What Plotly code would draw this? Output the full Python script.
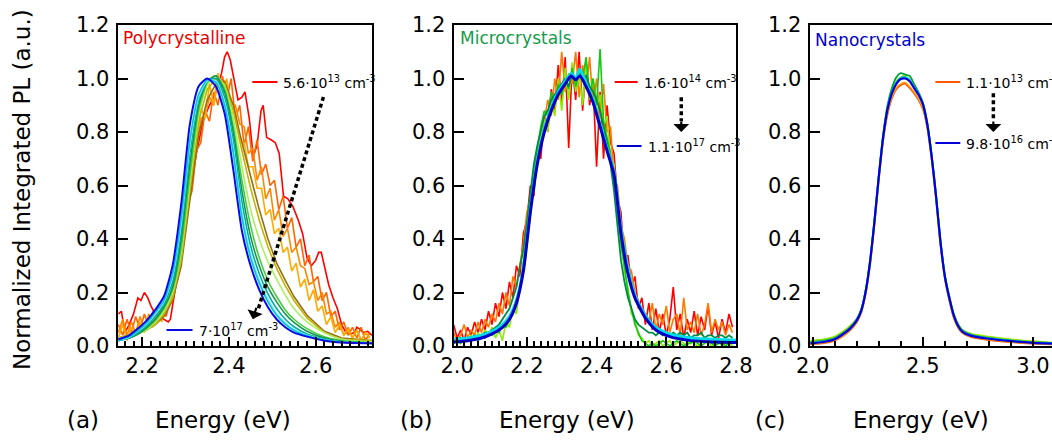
import numpy as np
import plotly.graph_objects as go

W, H = 1052, 442
FONT = "DejaVu Sans, Verdana, sans-serif"

# ---------------- panel (a) : Polycrystalline ----------------
a_E = [2.145, 2.17, 2.19, 2.21, 2.23,
       2.25, 2.27, 2.29, 2.31, 2.33,
       2.35, 2.37, 2.39, 2.41, 2.43,
       2.45, 2.47, 2.49, 2.51, 2.53,
       2.55, 2.58, 2.62, 2.66, 2.73]
a_blue = [0.025, 0.04, 0.065, 0.095, 0.135, 0.185, 0.30, 0.53, 0.83, 0.97,
          1.00, 0.97, 0.87, 0.66, 0.43, 0.30, 0.21, 0.145, 0.10, 0.07,
          0.05, 0.035, 0.02, 0.013, 0.01]
a_cyan = [0.02, 0.035, 0.057, 0.085, 0.125, 0.17, 0.27, 0.48, 0.77, 0.94,
          0.995, 0.985, 0.90, 0.72, 0.48, 0.33, 0.235, 0.165, 0.115, 0.082,
          0.058, 0.038, 0.022, 0.014, 0.01]
a_lightcyan = [0.02, 0.033, 0.055, 0.082, 0.12, 0.165, 0.26, 0.46, 0.75, 0.93,
               0.99, 0.99, 0.91, 0.74, 0.50, 0.345, 0.245, 0.175, 0.122, 0.087,
               0.062, 0.04, 0.023, 0.015, 0.01]
a_teal = [0.02, 0.03, 0.05, 0.075, 0.11, 0.155, 0.24, 0.43, 0.72, 0.92,
          0.99, 1.00, 0.93, 0.77, 0.54, 0.375, 0.27, 0.195, 0.14, 0.10,
          0.072, 0.045, 0.026, 0.016, 0.01]
a_darkgreen = [0.02, 0.03, 0.045, 0.07, 0.10, 0.145, 0.22, 0.40, 0.68, 0.90,
               0.99, 1.01, 0.95, 0.80, 0.58, 0.41, 0.30, 0.22, 0.165, 0.12,
               0.088, 0.055, 0.03, 0.018, 0.01]
a_green = [0.025, 0.03, 0.045, 0.065, 0.095, 0.14, 0.21, 0.37, 0.64, 0.88,
           0.985, 1.01, 0.96, 0.82, 0.62, 0.45, 0.33, 0.245, 0.185, 0.135,
           0.10, 0.065, 0.035, 0.02, 0.012]
a_lightgreen = [0.03, 0.035, 0.045, 0.06, 0.09, 0.13, 0.20, 0.35, 0.61, 0.86,
                0.975, 1.01, 0.97, 0.85, 0.67, 0.51, 0.40, 0.315, 0.25, 0.19,
                0.14, 0.09, 0.05, 0.025, 0.015]
a_olive = [0.03, 0.04, 0.05, 0.06, 0.08, 0.12, 0.18, 0.32, 0.57, 0.84,
           0.96, 1.00, 0.98, 0.88, 0.73, 0.59, 0.47, 0.37, 0.29, 0.225,
           0.17, 0.105, 0.05, 0.025, 0.02]
a_brown = [0.03, 0.04, 0.05, 0.06, 0.08, 0.11, 0.17, 0.30, 0.54, 0.79,
           0.92, 0.98, 0.99, 0.90, 0.76, 0.63, 0.51, 0.40, 0.31, 0.245,
           0.185, 0.115, 0.055, 0.03, 0.02]

# noisy orange spectra, energies 2.145, 2.155, ... (0.01 eV step)
a_noisy_E0, a_noisy_dE = 2.145, 0.01
a_orange1 = [0.08, 0.04, 0.10, 0.05, 0.11, 0.06, 0.12, 0.07, 0.13, 0.09,
             0.15, 0.11, 0.17, 0.20, 0.32, 0.38, 0.53, 0.58, 0.73, 0.76,
             0.88, 0.84, 0.95, 0.90, 1.01, 0.92, 1.00, 0.85, 0.90, 0.75,
             0.82, 0.69, 0.77, 0.64, 0.68, 0.60, 0.62, 0.51, 0.56, 0.44,
             0.48, 0.37, 0.40, 0.30, 0.34, 0.24, 0.26, 0.17, 0.20, 0.11,
             0.13, 0.06, 0.09, 0.04, 0.07, 0.03, 0.07, 0.02, 0.05]
a_orange2 = [0.05, 0.10, 0.04, 0.09, 0.05, 0.11, 0.06, 0.12, 0.08, 0.14,
             0.10, 0.17, 0.17, 0.27, 0.33, 0.47, 0.55, 0.69, 0.74, 0.85,
             0.86, 0.93, 0.90, 0.99, 0.97, 0.96, 0.91, 0.90, 0.83, 0.82,
             0.72, 0.74, 0.62, 0.67, 0.55, 0.59, 0.47, 0.51, 0.41, 0.44,
             0.35, 0.37, 0.30, 0.29, 0.23, 0.24, 0.17, 0.20, 0.12, 0.13,
             0.07, 0.09, 0.04, 0.07, 0.03, 0.06, 0.02, 0.05, 0.03]
a_orange3 = [0.03, 0.08, 0.02, 0.07, 0.04, 0.09, 0.05, 0.11, 0.07, 0.13,
             0.09, 0.16, 0.16, 0.29, 0.31, 0.51, 0.53, 0.73, 0.73, 0.89,
             0.85, 0.98, 0.90, 1.02, 0.94, 1.00, 0.87, 0.88, 0.77, 0.76,
             0.67, 0.67, 0.59, 0.59, 0.49, 0.51, 0.42, 0.44, 0.35, 0.37,
             0.28, 0.31, 0.22, 0.25, 0.17, 0.21, 0.13, 0.15, 0.08, 0.11,
             0.05, 0.08, 0.04, 0.06, 0.03, 0.06, 0.02, 0.05, 0.03]

a_red_E = [2.145, 2.152, 2.16, 2.17, 2.18, 2.19, 2.197, 2.205, 2.213, 2.22,
           2.23, 2.24, 2.25, 2.26, 2.265, 2.275, 2.285, 2.295, 2.31, 2.325,
           2.34, 2.355, 2.365, 2.375, 2.383, 2.39, 2.396, 2.403, 2.412, 2.421,
           2.43, 2.437, 2.447, 2.456, 2.465, 2.474, 2.479, 2.483, 2.487, 2.498,
           2.507, 2.516, 2.522, 2.526, 2.536, 2.548, 2.56, 2.57, 2.58, 2.59,
           2.60, 2.607, 2.613, 2.62, 2.63, 2.64, 2.65, 2.66, 2.67, 2.68,
           2.69, 2.695, 2.70, 2.71, 2.72, 2.73]
a_red = [0.12, 0.13, 0.05, 0.08, 0.12, 0.18, 0.17, 0.20, 0.18, 0.15,
         0.12, 0.11, 0.10, 0.09, 0.10, 0.20, 0.30, 0.42, 0.58, 0.72,
         0.84, 0.90, 0.93, 0.98, 1.02, 1.08, 1.10, 1.07, 0.99, 0.92,
         0.93, 0.95, 0.85, 0.71, 0.75, 0.88, 0.90, 0.84, 0.78, 0.77,
         0.76, 0.72, 0.62, 0.56, 0.55, 0.52, 0.47, 0.42, 0.33, 0.30,
         0.32, 0.35, 0.35, 0.30, 0.23, 0.18, 0.14, 0.08, 0.05, 0.045,
         0.05, 0.07, 0.065, 0.05, 0.055, 0.04]

# ---------------- panel (b) : Microcrystals ----------------
b_E = [1.99, 2.03, 2.07, 2.10, 2.13, 2.15, 2.17, 2.19, 2.21, 2.23,
       2.25, 2.27, 2.29, 2.31, 2.327, 2.34, 2.352, 2.37, 2.39, 2.41,
       2.43, 2.45, 2.47, 2.49, 2.51, 2.54, 2.57, 2.61, 2.66, 2.72, 2.80]
b_blue = [0.015, 0.02, 0.03, 0.045, 0.07, 0.10, 0.16, 0.28, 0.50, 0.68,
          0.80, 0.88, 0.94, 0.98, 1.01, 0.995, 1.01, 0.97, 0.91, 0.82,
          0.73, 0.64, 0.42, 0.27, 0.18, 0.105, 0.06, 0.035, 0.022, 0.016, 0.013]
b_cyan = [0.025, 0.03, 0.04, 0.055, 0.08, 0.11, 0.17, 0.29, 0.51, 0.69,
          0.81, 0.89, 0.95, 0.99, 1.02, 1.00, 1.035, 0.98, 0.92, 0.83,
          0.74, 0.65, 0.44, 0.29, 0.19, 0.115, 0.07, 0.045, 0.032, 0.026, 0.022]

# noisy spectra, energies 1.99, 2.00, ... (0.01 eV step)
b_noisy_E0, b_noisy_dE = 1.99, 0.01
b_red = [0.08, 0.03, 0.06, 0.02, 0.07, 0.04, 0.09, 0.05, 0.10, 0.06,
         0.13, 0.08, 0.16, 0.11, 0.20, 0.14, 0.24, 0.18, 0.30, 0.26,
         0.42, 0.47, 0.60, 0.56, 0.74, 0.70, 0.86, 0.80, 0.96, 0.88,
         1.05, 0.90, 1.08, 0.74, 1.05, 0.92, 1.10, 0.88, 1.06, 0.90,
         0.98, 0.67, 0.95, 0.70, 0.90, 0.76, 0.72, 0.55, 0.50, 0.30,
         0.34, 0.22, 0.26, 0.14, 0.18, 0.08, 0.16, 0.06, 0.14, 0.05,
         0.12, 0.04, 0.10, 0.22, 0.06, 0.12, 0.03, 0.10, 0.05, 0.13,
         0.04, 0.11, 0.06, 0.15, 0.04, 0.09, 0.03, 0.10, 0.05, 0.12,
         0.07]
b_orange = [0.05, 0.02, 0.04, 0.08, 0.03, 0.06, 0.04, 0.09, 0.05, 0.10,
            0.07, 0.12, 0.09, 0.16, 0.12, 0.20, 0.15, 0.26, 0.22, 0.30,
            0.38, 0.50, 0.55, 0.66, 0.72, 0.80, 0.84, 0.92, 0.86, 1.00,
            0.92, 1.10, 0.95, 1.02, 0.98, 1.10, 0.93, 1.05, 0.96, 1.08,
            0.90, 1.00, 0.85, 0.98, 0.80, 0.82, 0.62, 0.60, 0.45, 0.40,
            0.30, 0.28, 0.20, 0.17, 0.13, 0.12, 0.09, 0.16, 0.06, 0.12,
            0.08, 0.15, 0.05, 0.10, 0.12, 0.04, 0.18, 0.06, 0.09, 0.05,
            0.12, 0.04, 0.08, 0.16, 0.05, 0.10, 0.06, 0.09, 0.04, 0.08,
            0.05]
b_chartreuse = [0.02, 0.03, 0.01, 0.03, 0.02, 0.04, 0.02, 0.05, 0.03, 0.06,
                0.04, 0.07, 0.03, 0.06, 0.02, 0.09, 0.07, 0.14, 0.12, 0.22,
                0.30, 0.42, 0.55, 0.60, 0.72, 0.78, 0.85, 0.80, 0.92, 0.86,
                1.00, 0.88, 1.04, 0.92, 1.06, 0.95, 1.02, 0.90, 1.05, 0.92,
                1.00, 0.86, 0.94, 0.82, 0.86, 0.70, 0.68, 0.50, 0.40, 0.28,
                0.22, 0.12, 0.10, 0.04, 0.03, 0.01, 0.02, 0.00, 0.01, 0.02,
                0.00, 0.01, 0.02, 0.00, 0.01, 0.02, 0.01, 0.00, 0.02, 0.01,
                0.00, 0.01, 0.02, 0.01, 0.00, 0.01, 0.02, 0.00, 0.01, 0.01,
                0.00]
b_green = [0.01, 0.02, 0.01, 0.03, 0.02, 0.02, 0.03, 0.02, 0.04, 0.03,
           0.05, 0.04, 0.06, 0.05, 0.08, 0.07, 0.10, 0.12, 0.16, 0.22,
           0.30, 0.45, 0.52, 0.66, 0.74, 0.82, 0.88, 0.86, 0.95, 0.90,
           0.98, 0.94, 1.00, 0.96, 1.04, 0.97, 1.02, 1.00, 1.08, 0.94,
           1.00, 0.90, 1.11, 0.84, 0.78, 0.72, 0.60, 0.52, 0.38, 0.30,
           0.20, 0.14, 0.08, 0.05, 0.02, 0.01, 0.00, 0.01, 0.00, 0.01,
           0.02, 0.01, 0.00, 0.01, 0.02, 0.01, 0.00, 0.01, 0.01, 0.02,
           0.01, 0.00, 0.01, 0.02, 0.01, 0.00, 0.01, 0.01, 0.00, 0.01,
           0.01]
b_darkgreen = [0.02, 0.02, 0.03, 0.02, 0.03, 0.03, 0.04, 0.03, 0.04, 0.05,
               0.05, 0.06, 0.07, 0.08, 0.10, 0.12, 0.14, 0.18, 0.22, 0.30,
               0.36, 0.46, 0.58, 0.68, 0.75, 0.80, 0.86, 0.88, 0.92, 0.94,
               0.96, 0.98, 1.00, 0.97, 1.02, 0.99, 1.03, 1.00, 1.01, 0.97,
               0.95, 0.92, 0.88, 0.82, 0.76, 0.68, 0.58, 0.45, 0.32, 0.24,
               0.18, 0.14, 0.10, 0.08, 0.07, 0.06, 0.05, 0.05, 0.04, 0.05,
               0.04, 0.05, 0.04, 0.05, 0.04, 0.05, 0.04, 0.05, 0.03, 0.04,
               0.04, 0.05, 0.03, 0.04, 0.04, 0.03, 0.04, 0.04, 0.03, 0.04,
               0.03]

# ---------------- panel (c) : Nanocrystals ----------------
c_E = [1.99, 2.05, 2.10, 2.14, 2.17, 2.20, 2.22, 2.24, 2.26, 2.28,
       2.30, 2.32, 2.34, 2.36, 2.38, 2.40, 2.42, 2.44, 2.46, 2.48,
       2.50, 2.52, 2.54, 2.56, 2.58, 2.60, 2.62, 2.64, 2.66, 2.68,
       2.72, 2.80, 2.90, 3.00, 3.10]
c_blue = [0.01, 0.015, 0.025, 0.045, 0.065, 0.095, 0.13, 0.20, 0.31, 0.46,
          0.63, 0.78, 0.885, 0.945, 0.98, 0.998, 1.0, 0.99, 0.965, 0.94,
          0.905, 0.83, 0.71, 0.56, 0.39, 0.26, 0.18, 0.115, 0.075, 0.053,
          0.038, 0.027, 0.018, 0.012, 0.008]
c_cyan = [0.012, 0.017, 0.027, 0.047, 0.067, 0.097, 0.132, 0.202, 0.312, 0.462,
          0.632, 0.782, 0.887, 0.948, 0.985, 1.003, 1.005, 0.995, 0.97, 0.945,
          0.908, 0.832, 0.712, 0.562, 0.392, 0.262, 0.182, 0.117, 0.077, 0.055,
          0.04, 0.029, 0.02, 0.013, 0.009]
c_green = [0.015, 0.02, 0.03, 0.05, 0.07, 0.10, 0.135, 0.205, 0.315, 0.465,
           0.635, 0.79, 0.90, 0.965, 1.005, 1.02, 1.015, 1.01, 0.98, 0.95,
           0.91, 0.835, 0.715, 0.565, 0.395, 0.265, 0.185, 0.12, 0.08, 0.058,
           0.042, 0.03, 0.02, 0.014, 0.01]
c_chartreuse = [0.02, 0.025, 0.035, 0.055, 0.075, 0.10, 0.135, 0.205, 0.31, 0.46,
                0.63, 0.785, 0.89, 0.955, 0.99, 1.005, 1.01, 0.995, 0.97, 0.945,
                0.905, 0.83, 0.71, 0.56, 0.39, 0.265, 0.185, 0.12, 0.082, 0.06,
                0.045, 0.035, 0.025, 0.018, 0.012]
c_orange = [0.008, 0.012, 0.022, 0.04, 0.06, 0.09, 0.125, 0.195, 0.30, 0.45,
            0.62, 0.77, 0.87, 0.93, 0.965, 0.98, 0.985, 0.97, 0.95, 0.925,
            0.89, 0.82, 0.70, 0.55, 0.38, 0.255, 0.175, 0.11, 0.07, 0.05,
            0.035, 0.024, 0.015, 0.01, 0.006]
c_red = [0.006, 0.01, 0.02, 0.038, 0.058, 0.088, 0.122, 0.19, 0.295, 0.445,
         0.615, 0.765, 0.865, 0.925, 0.96, 0.975, 0.98, 0.965, 0.945, 0.92,
         0.885, 0.815, 0.695, 0.545, 0.375, 0.25, 0.17, 0.105, 0.068, 0.048,
         0.033, 0.022, 0.014, 0.009, 0.005]

# arrows (data coordinates)
arrow_a_E = [2.618, 2.468]
arrow_a_I = [0.931, 0.14]
arrow_b_E = [2.643, 2.643]
arrow_b_I = [0.93, 0.84]
arrow_c_E = [2.82, 2.82]
arrow_c_I = [0.945, 0.84]

# legend labels
labels = {
    "a_hi": "5.6·10<sup>13</sup> cm<sup>-3</sup>",
    "a_lo": "7·10<sup>17</sup> cm<sup>-3</sup>",
    "b_hi": "1.6·10<sup>14</sup> cm<sup>-3</sup>",
    "b_lo": "1.1·10<sup>17</sup> cm<sup>-3</sup>",
    "c_hi": "1.1·10<sup>13</sup> cm<sup>-3</sup>",
    "c_lo": "9.8·10<sup>16</sup> cm<sup>-3</sup>",
}

fig = go.Figure()


def add(ax, x, y, color, width=1.6, shape="linear"):
    fig.add_trace(go.Scatter(
        x=x, y=y, mode="lines", xaxis="x" + ax, yaxis="y" + ax,
        line=dict(color=color, width=width, shape=shape, smoothing=0.6 if shape == "spline" else None),
        hoverinfo="skip", showlegend=False))


def grid(e0, de, n):
    return list(np.round(e0 + de * np.arange(n), 4))


# panel a
add("", a_red_E, a_red, "rgb(255,0,0)", 1.6)
add("", grid(a_noisy_E0, a_noisy_dE, len(a_orange1)), a_orange1, "rgb(255,100,0)", 1.6)
add("", grid(a_noisy_E0, a_noisy_dE, len(a_orange2)), a_orange2, "rgb(255,135,0)", 1.6)
add("", grid(a_noisy_E0, a_noisy_dE, len(a_orange3)), a_orange3, "rgb(255,170,0)", 1.6)
add("", a_E, a_brown, "rgb(150,110,20)", 1.6)
add("", a_E, a_olive, "rgb(195,180,0)", 1.6)
add("", a_E, a_lightgreen, "rgb(170,240,100)", 1.6, "spline")
add("", a_E, a_green, "rgb(70,205,60)", 1.6, "spline")
add("", a_E, a_darkgreen, "rgb(20,150,80)", 1.6, "spline")
add("", a_E, a_teal, "rgb(0,175,160)", 1.6, "spline")
add("", a_E, a_lightcyan, "rgb(130,230,240)", 1.6, "spline")
add("", a_E, a_cyan, "rgb(0,195,225)", 1.6, "spline")
add("", a_E, a_blue, "rgb(10,10,230)", 2.0, "spline")

# panel b
add("2", grid(b_noisy_E0, b_noisy_dE, len(b_red)), b_red, "rgb(255,0,0)", 1.6)
add("2", grid(b_noisy_E0, b_noisy_dE, len(b_orange)), b_orange, "rgb(255,120,0)", 1.6)
add("2", grid(b_noisy_E0, b_noisy_dE, len(b_chartreuse)), b_chartreuse, "rgb(140,235,0)", 1.6)
add("2", grid(b_noisy_E0, b_noisy_dE, len(b_green)), b_green, "rgb(20,200,20)", 1.6)
add("2", grid(b_noisy_E0, b_noisy_dE, len(b_darkgreen)), b_darkgreen, "rgb(0,140,70)", 1.8)
add("2", b_E, b_cyan, "rgb(0,220,235)", 3.0, "spline")
add("2", b_E, b_blue, "rgb(0,0,200)", 3.0, "spline")

# panel c
add("3", c_E, c_red, "rgb(255,70,0)", 1.6, "spline")
add("3", c_E, c_orange, "rgb(255,160,0)", 1.6, "spline")
add("3", c_E, c_chartreuse, "rgb(150,230,0)", 1.8, "spline")
add("3", c_E, c_green, "rgb(0,160,60)", 1.8, "spline")
add("3", c_E, c_cyan, "rgb(0,200,230)", 1.8, "spline")
add("3", c_E, c_blue, "rgb(0,0,220)", 2.2, "spline")

# dotted arrows
for ax, xs, ys in (("", arrow_a_E, arrow_a_I), ("2", arrow_b_E, arrow_b_I), ("3", arrow_c_E, arrow_c_I)):
    fig.add_trace(go.Scatter(x=xs, y=ys, mode="lines", xaxis="x" + ax, yaxis="y" + ax,
                             line=dict(color="black", width=3.5, dash="4px,3px"),
                             hoverinfo="skip", showlegend=False))

yd = [1 - 346 / H, 1 - 25 / H]
axis_common = dict(showline=True, linecolor="black", linewidth=2, showgrid=False, zeroline=False,
                   automargin=False,
                   ticks="inside", tickcolor="black", tickwidth=2,
                   tickfont=dict(family=FONT, size=21, color="black"))


def xax(dom, rng, anchor, major, labels_, minor_vals, mirror=True):
    d = dict(axis_common)
    d.update(domain=dom, range=rng, anchor=anchor, ticklen=9, mirror=mirror,
             tickmode="array", tickvals=major, ticktext=labels_,
             minor=dict(tickmode="array", tickvals=minor_vals, ticks="inside", ticklen=5,
                        tickwidth=1.5, tickcolor="black", showgrid=False))
    return d


def yax(anchor, mirror=True):
    d = dict(axis_common)
    d.update(domain=yd, range=[0, 1.2], anchor=anchor, ticklen=10, mirror=mirror,
             tickmode="array", tickvals=[0, 0.2, 0.4, 0.6, 0.8, 1.0, 1.2],
             ticktext=["0.0", "0.2", "0.4", "0.6", "0.8", "1.0", "1.2"], ticklabelstandoff=2)
    return d


a_minor = list(np.round(np.arange(2.14, 2.731, 0.02), 3))
b_minor = list(np.round(np.arange(2.0, 2.801, 0.02), 3))
c_minor = list(np.round(np.arange(2.0, 3.09, 0.1), 3))

fig.update_layout(
    width=W, height=H, margin=dict(l=0, r=0, t=0, b=0, pad=0), autosize=False,
    paper_bgcolor="white", plot_bgcolor="white", showlegend=False,
    font=dict(family=FONT, size=21, color="black"),
    xaxis=xax([117.5 / W, 372 / W], [2.143, 2.730], "y",
              [2.2, 2.3, 2.4, 2.5, 2.6, 2.7], ["2.2", "", "2.4", "", "2.6", ""], a_minor),
    yaxis=yax("x"),
    xaxis2=xax([453.5 / W, 736 / W], [1.9895, 2.80], "y2",
               [2.0, 2.1, 2.2, 2.3, 2.4, 2.5, 2.6, 2.7, 2.8],
               ["2.0", "", "2.2", "", "2.4", "", "2.6", "", "2.8"], b_minor),
    yaxis2=yax("x2"),
    xaxis3=xax([809.5 / W, 1.0], [1.986, 3.086], "y3",
               [2.0, 2.5, 3.0], ["2.0", "2.5", "3.0"], c_minor),
    yaxis3=yax("x3", mirror=False),
)

ann = []


def txt(x, y, s, size, color="black", xanchor="center", angle=0):
    ann.append(dict(x=x / W, y=1 - y / H, xref="paper", yref="paper", text=s, showarrow=False,
                    xanchor=xanchor, yanchor="middle", textangle=angle, borderpad=0,
                    font=dict(family=FONT, size=size, color=color)))


txt(22, 190, "Normalized Integrated PL (a.u.)", 23, angle=-90)
for cx, lab in ((83, "(a)"), (416, "(b)"), (770, "(c)")):
    txt(cx, 420, lab, 23)
for cx in (223, 567, 921):
    txt(cx, 420, "Energy (eV)", 23)
txt(122, 38, "Polycrystalline", 17, "rgb(235,0,0)", "left")
txt(459, 38, "Microcrystals", 17, "rgb(20,155,75)", "left")
txt(814, 40, "Nanocrystals", 17, "rgb(0,0,205)", "left")


def legend_entry(ax, x0, x1, y, color, text):
    fig.add_shape(type="line", xref="x" + ax, yref="y" + ax, x0=x0, x1=x1, y0=y, y1=y,
                  line=dict(color=color, width=2))
    ann.append(dict(x=x1, y=y, xref="x" + ax, yref="y" + ax, text=text, showarrow=False,
                    xanchor="left", yanchor="middle", xshift=5, borderpad=0,
                    font=dict(family=FONT, size=14, color="black")))


legend_entry("", 2.454, 2.512, 0.987, "rgb(255,0,0)", labels["a_hi"])
legend_entry("", 2.256, 2.316, 0.06, "rgb(10,10,230)", labels["a_lo"])
legend_entry("2", 2.452, 2.518, 0.987, "rgb(255,0,0)", labels["b_hi"])
legend_entry("2", 2.458, 2.529, 0.748, "rgb(0,0,200)", labels["b_lo"])
legend_entry("3", 2.557, 2.670, 0.987, "rgb(255,90,0)", labels["c_hi"])
legend_entry("3", 2.557, 2.670, 0.759, "rgb(0,0,220)", labels["c_lo"])

# arrow heads
for ax, x, y, dx, dy in (("", 2.455, 0.10, 4, -13), ("2", 2.643, 0.80, 0, -12), ("3", 2.82, 0.80, 0, -12)):
    ann.append(dict(x=x, y=y, xref="x" + ax, yref="y" + ax, ax=dx, ay=dy, text="",
                    showarrow=True, arrowhead=1, arrowsize=1.2, arrowwidth=2.2, arrowcolor="black"))

fig.update_layout(annotations=ann)
fig.write_html("out.html")
